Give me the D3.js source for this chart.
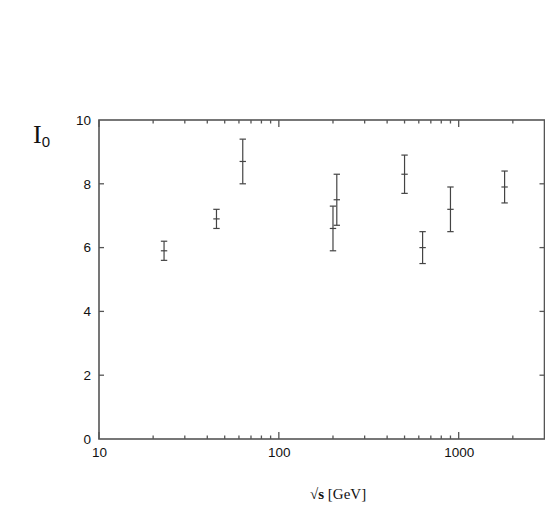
<!DOCTYPE html>
<html><head><meta charset="utf-8">
<script src="https://cdn.jsdelivr.net/npm/d3@7"></script>
<style>body{margin:0;background:#fff}svg{display:block}</style>
</head><body>
<script>
const energies = [23, 45, 63, 200, 210, 500, 630, 900, 1800];
const values   = [5.9, 6.9, 8.7, 6.6, 7.5, 8.3, 6.0, 7.2, 7.9];
const errors   = [0.3, 0.3, 0.7, 0.7, 0.8, 0.6, 0.5, 0.7, 0.5];
const yTicks = [0, 2, 4, 6, 8, 10];
const xMajor = [10, 100, 1000];

const W = 545, H = 505;
const m = {left: 99, right: 544.5, top: 120, bottom: 439};
const svg = d3.select("body").append("svg").attr("width", W).attr("height", H);
const x = d3.scaleLog().domain([10, 3000]).range([m.left, m.right]);
const y = d3.scaleLinear().domain([0, 10]).range([m.bottom, m.top]);
const col = "#555";
const tickFont = "'Liberation Sans', Arial, sans-serif";

// minor ticks
const minor = [];
for (let d = 10; d < 3000; d *= 10) for (let k = 2; k <= 9; k++) if (d*k < 3000) minor.push(d*k);

const g = svg.append("g");
// bottom axis labels
const xb = d3.axisBottom(x).tickValues(xMajor).tickSize(0).tickPadding(8).tickFormat(d3.format("d"));
g.append("g").attr("transform", `translate(0,${m.bottom})`).call(xb)
  .call(s => { s.select(".domain").remove(); s.selectAll("text").attr("font-family",tickFont).attr("font-size",13.5).attr("fill","#111"); });

// left axis labels
const yl = d3.axisLeft(y).tickValues(yTicks).tickSize(0).tickPadding(8);
g.append("g").attr("transform", `translate(${m.left},0)`).call(yl)
  .call(s => { s.select(".domain").remove(); s.selectAll("text").attr("font-family",tickFont).attr("font-size",13.5).attr("fill","#111"); });

// frame
svg.append("rect").attr("x", m.left).attr("y", m.top).attr("width", m.right - m.left).attr("height", m.bottom - m.top)
  .attr("fill","none").attr("stroke", col).attr("stroke-width", 1.6);

const tk = svg.append("g").attr("stroke", col).attr("stroke-width", 1.3);
xMajor.forEach(v => {
  tk.append("line").attr("x1", x(v)).attr("x2", x(v)).attr("y1", m.bottom).attr("y2", m.bottom - 7);
  tk.append("line").attr("x1", x(v)).attr("x2", x(v)).attr("y1", m.top).attr("y2", m.top + 7);
});
minor.forEach(v => {
  tk.append("line").attr("x1", x(v)).attr("x2", x(v)).attr("y1", m.bottom).attr("y2", m.bottom - 3.5);
  tk.append("line").attr("x1", x(v)).attr("x2", x(v)).attr("y1", m.top).attr("y2", m.top + 3.5);
});
yTicks.slice(1, -1).forEach(v => {
  tk.append("line").attr("x1", m.left).attr("x2", m.left + 5).attr("y1", y(v)).attr("y2", y(v));
  tk.append("line").attr("x1", m.right).attr("x2", m.right - 5).attr("y1", y(v)).attr("y2", y(v));
});

// error bars
const eb = svg.append("g").attr("stroke", "#444").attr("stroke-width", 1.2);
energies.forEach((e, i) => {
  const cx = x(e), v = values[i], er = errors[i];
  eb.append("line").attr("x1", cx).attr("x2", cx).attr("y1", y(v + er)).attr("y2", y(v - er));
  [v + er, v, v - er].forEach(t => eb.append("line").attr("x1", cx - 3.2).attr("x2", cx + 3.2).attr("y1", y(t)).attr("y2", y(t)));
});

// y label I0
const lab = svg.append("text").attr("x", 33).attr("y", 143).attr("fill", "#111");
lab.append("tspan").attr("font-family", "'Liberation Serif', serif").attr("font-size", 26).text("I");
lab.append("tspan").attr("font-family", tickFont).attr("font-size", 15).attr("dy", 4).text("0");

// x label
const xl = svg.append("text").attr("x", 310).attr("y", 499).attr("fill", "#111")
  .attr("font-family", "'Liberation Serif', serif").attr("font-size", 15);
xl.append("tspan").attr("font-weight", "bold").text("√s");
xl.append("tspan").text(" [GeV]");
</script>
</body></html>
